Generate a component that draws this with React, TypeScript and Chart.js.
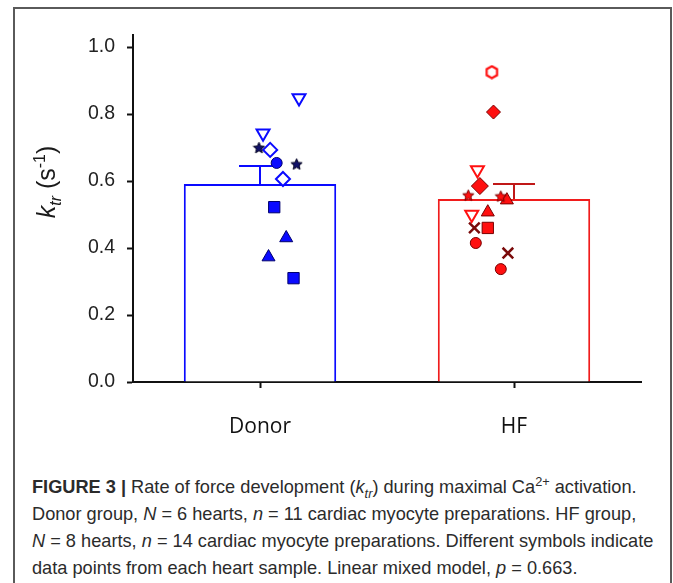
import React, { useEffect, useRef } from 'react';
import { Chart, registerables } from 'chart.js';
Chart.register(...registerables);

const categories = ['Donor', 'HF'];
const yTickValues = [0, 0.2, 0.4, 0.6, 0.8, 1.0];
const yTickLabels = ['0.0', '0.2', '0.4', '0.6', '0.8', '1.0'];
const barMeans = [0.591, 0.546];
const barSems = [0.054, 0.045];

// Donor hearts (values and horizontal jitter in category units)
const donorDownTriVals = [0.848, 0.743];
const donorDownTriJitter = [0.067, -0.11];
const donorStarVals = [0.70, 0.651];
const donorStarJitter = [-0.13, 0.055];
const donorDiamondVals = [0.693, 0.606];
const donorDiamondJitter = [-0.075, -0.012];
const donorCircleVals = [0.654];
const donorCircleJitter = [-0.043];
const donorSquareVals = [0.522, 0.31];
const donorSquareJitter = [-0.055, 0.04];
const donorTriVals = [0.43, 0.373];
const donorTriJitter = [0.004, -0.083];

// HF hearts
const hfHexVals = [0.925];
const hfHexJitter = [0.016];
const hfDiamondVals = [0.806, 0.585];
const hfDiamondJitter = [0.024, -0.043];
const hfDownTriVals = [0.633, 0.50];
const hfDownTriJitter = [-0.055, -0.083];
const hfStarVals = [0.558, 0.555];
const hfStarJitter = [-0.10, 0.06];
const hfTriVals = [0.543, 0.507];
const hfTriJitter = [0.09, -0.004];
const hfCrossVals = [0.46, 0.385];
const hfCrossJitter = [-0.07, 0.095];
const hfSquareVals = [0.46];
const hfSquareJitter = [-0.004];
const hfCircleVals = [0.415, 0.337];
const hfCircleJitter = [-0.063, 0.06];

const BLUE = '#0a0aff';
const BLUE_EDGE = '#00006e';
const RED = '#ff1010';
const RED_EDGE = '#7a0000';

function pts(cat: number, vals: number[], jit: number[]) {
  return vals.map((v, i) => ({ x: cat + jit[i], y: v }));
}

function makeStar(fill: string, stroke: string, size: number) {
  const c = document.createElement('canvas');
  c.width = size;
  c.height = size;
  const g = c.getContext('2d')!;
  const cx = size / 2;
  const cy = size / 2 + 0.6;
  const R = size / 2 - 0.6;
  const r = R * 0.45;
  g.beginPath();
  for (let i = 0; i < 10; i++) {
    const a = -Math.PI / 2 + (i * Math.PI) / 5;
    const rr = i % 2 ? r : R;
    const px = cx + Math.cos(a) * rr;
    const py = cy + Math.sin(a) * rr;
    if (i === 0) g.moveTo(px, py);
    else g.lineTo(px, py);
  }
  g.closePath();
  g.fillStyle = fill;
  g.fill();
  g.strokeStyle = stroke;
  g.lineWidth = 1;
  g.stroke();
  return c;
}

function makeHex(stroke: string, size: number) {
  const c = document.createElement('canvas');
  c.width = size;
  c.height = size;
  const g = c.getContext('2d')!;
  const cx = size / 2;
  const cy = size / 2;
  const R = size / 2 - 1.5;
  g.beginPath();
  for (let i = 0; i < 6; i++) {
    const a = -Math.PI / 2 + (i * Math.PI) / 3;
    const px = cx + Math.cos(a) * R;
    const py = cy + Math.sin(a) * R;
    if (i === 0) g.moveTo(px, py);
    else g.lineTo(px, py);
  }
  g.closePath();
  g.fillStyle = '#fff';
  g.fill();
  g.strokeStyle = stroke;
  g.lineWidth = 2.2;
  g.stroke();
  return c;
}

const errorColors = [BLUE, '#c01818'];

const errorBarPlugin = {
  id: 'errorBars',
  beforeDatasetsDraw(chart: any) {
    const { ctx } = chart;
    const x = chart.scales.x;
    const y = chart.scales.y;
    barMeans.forEach((m, i) => {
      const px = x.getPixelForValue(i);
      const yb = y.getPixelForValue(m);
      const yt = y.getPixelForValue(m + barSems[i]);
      ctx.save();
      ctx.strokeStyle = errorColors[i];
      ctx.lineWidth = 2;
      ctx.beginPath();
      ctx.moveTo(px, yb);
      ctx.lineTo(px, yt);
      ctx.moveTo(px - 21, yt);
      ctx.lineTo(px + 21, yt);
      ctx.stroke();
      ctx.restore();
    });
  },
};

const yTitlePlugin = {
  id: 'yTitle',
  afterDraw(chart: any) {
    const { ctx } = chart;
    const big = 25;
    const small = 16;
    const fam = '"Liberation Sans", Arial, sans-serif';
    const parts = [
      { t: 'k', f: `italic ${big}px ${fam}`, dy: 0 },
      { t: 'tr', f: `italic ${small}px ${fam}`, dy: 6 },
      { t: ' (s', f: `${big}px ${fam}`, dy: 0 },
      { t: '-1', f: `${small}px ${fam}`, dy: -10 },
      { t: ')', f: `${big}px ${fam}`, dy: 0 },
    ];
    let total = 0;
    parts.forEach((p) => {
      ctx.font = p.f;
      total += ctx.measureText(p.t).width;
    });
    ctx.save();
    ctx.translate(55, 182);
    ctx.rotate(-Math.PI / 2);
    ctx.fillStyle = '#1a1a1a';
    ctx.textBaseline = 'alphabetic';
    ctx.textAlign = 'left';
    let cx = -total / 2;
    parts.forEach((p) => {
      ctx.font = p.f;
      ctx.fillText(p.t, cx, p.dy);
      cx += ctx.measureText(p.t).width;
    });
    ctx.restore();
  },
};

export default function App() {
  const ref = useRef<HTMLCanvasElement>(null);

  useEffect(() => {
    const canvas = ref.current!;
    const starBlue = makeStar('#12126a', '#000020', 13);
    const starRed = makeStar(RED, RED_EDGE, 13);
    const hexRed = makeHex(RED, 15);

    const sc = (label: string, data: any[], style: any) => ({
      type: 'scatter' as const,
      label,
      data,
      xAxisID: 'xs',
      yAxisID: 'y',
      order: 0,
      ...style,
    });

    const datasets: any[] = [
      {
        type: 'bar',
        label: 'mean',
        data: barMeans,
        xAxisID: 'x',
        yAxisID: 'y',
        order: 10,
        grouped: false,
        backgroundColor: '#ffffff',
        borderColor: [BLUE, '#f01c1c'],
        borderWidth: 2,
        barPercentage: 0.6,
        categoryPercentage: 1.0,
      },
      sc('donor-downtri', pts(0, donorDownTriVals, donorDownTriJitter), {
        pointStyle: 'triangle', pointRotation: 180, pointRadius: 7.5,
        backgroundColor: '#fff', borderColor: BLUE, borderWidth: 2,
      }),
      sc('donor-star', pts(0, donorStarVals, donorStarJitter), {
        pointStyle: starBlue, pointRadius: 7,
      }),
      sc('donor-diamond', pts(0, donorDiamondVals, donorDiamondJitter), {
        pointStyle: 'rectRot', pointRadius: 7,
        backgroundColor: '#fff', borderColor: BLUE, borderWidth: 2,
      }),
      sc('donor-circle', pts(0, donorCircleVals, donorCircleJitter), {
        pointStyle: 'circle', pointRadius: 5.5,
        backgroundColor: BLUE, borderColor: BLUE_EDGE, borderWidth: 1,
      }),
      sc('donor-square', pts(0, donorSquareVals, donorSquareJitter), {
        pointStyle: 'rect', pointRadius: 8,
        backgroundColor: BLUE, borderColor: BLUE_EDGE, borderWidth: 1,
      }),
      sc('donor-tri', pts(0, donorTriVals, donorTriJitter), {
        pointStyle: 'triangle', pointRadius: 7.5,
        backgroundColor: BLUE, borderColor: BLUE_EDGE, borderWidth: 1,
      }),
      sc('hf-hex', pts(1, hfHexVals, hfHexJitter), {
        pointStyle: hexRed, pointRadius: 7,
      }),
      sc('hf-diamond', pts(1, hfDiamondVals, hfDiamondJitter), {
        pointStyle: 'rectRot', pointRadius: [7, 8.5],
        backgroundColor: RED, borderColor: RED_EDGE, borderWidth: 1,
      }),
      sc('hf-downtri', pts(1, hfDownTriVals, hfDownTriJitter), {
        pointStyle: 'triangle', pointRotation: 180, pointRadius: 7.5,
        backgroundColor: '#fff', borderColor: RED, borderWidth: 2,
      }),
      sc('hf-star', pts(1, hfStarVals, hfStarJitter), {
        pointStyle: starRed, pointRadius: 7,
      }),
      sc('hf-tri', pts(1, hfTriVals, hfTriJitter), {
        pointStyle: 'triangle', pointRadius: 7.5,
        backgroundColor: RED, borderColor: RED_EDGE, borderWidth: 1,
      }),
      sc('hf-cross', pts(1, hfCrossVals, hfCrossJitter), {
        pointStyle: 'crossRot', pointRadius: 7.5,
        backgroundColor: '#7a0a0a', borderColor: '#7a0a0a', borderWidth: 2.5,
      }),
      sc('hf-square', pts(1, hfSquareVals, hfSquareJitter), {
        pointStyle: 'rect', pointRadius: 8,
        backgroundColor: RED, borderColor: RED_EDGE, borderWidth: 1,
      }),
      sc('hf-circle', pts(1, hfCircleVals, hfCircleJitter), {
        pointStyle: 'circle', pointRadius: 5.5,
        backgroundColor: RED, borderColor: RED_EDGE, borderWidth: 1,
      }),
    ];

    const chart = new Chart(canvas, {
      type: 'bar',
      data: { labels: categories, datasets },
      options: {
        responsive: false,
        animation: false,
        devicePixelRatio: 1,
        layout: { padding: { top: 35, right: 32, left: 0, bottom: 0 } },
        plugins: { legend: { display: false }, tooltip: { enabled: false } },
        scales: {
          x: {
            type: 'category',
            offset: true,
            grid: {
              offset: false,
              drawOnChartArea: false,
              drawTicks: true,
              tickLength: 6,
              tickColor: '#111',
              tickWidth: 2,
            },
            border: { display: true, color: '#111', width: 2 },
            ticks: {
              font: { family: '"Open Sans", "Noto Sans", sans-serif', size: 21 },
              color: '#111',
              padding: 26,
            },
            afterFit: (s: any) => {
              s.height = 78;
            },
          },
          xs: { type: 'linear', min: -0.5, max: 1.5, display: false },
          y: {
            min: 0,
            max: 1.036,
            afterBuildTicks: (s: any) => {
              s.ticks = yTickValues.map((v) => ({ value: v }));
            },
            ticks: {
              callback: (_v: any, i: number) => yTickLabels[i],
              font: { family: '"Liberation Sans", Arial, sans-serif', size: 19.5 },
              color: '#222',
              padding: 12,
            },
            grid: {
              drawOnChartArea: false,
              drawTicks: true,
              tickLength: 6,
              tickColor: '#111',
              tickWidth: 2,
            },
            border: { display: true, color: '#111', width: 2 },
            afterFit: (s: any) => {
              s.width = 133;
            },
          },
        },
      } as any,
      plugins: [errorBarPlugin, yTitlePlugin],
    });
    return () => chart.destroy();
  }, []);

  const sub: React.CSSProperties = { fontSize: '70%', lineHeight: 0 };

  return (
    <div
      style={{
        position: 'fixed',
        left: 0,
        top: 0,
        width: 673,
        height: 583,
        overflow: 'hidden',
        background: '#fff',
      }}
    >
      <div
        style={{
          position: 'absolute',
          left: 13,
          top: 7,
          width: 659,
          height: 700,
          border: '2px solid #5a5a5a',
          boxSizing: 'border-box',
        }}
      />
      <canvas
        ref={ref}
        width={673}
        height={460}
        style={{ position: 'absolute', left: 0, top: 0, width: 673, height: 460 }}
      />
      <div
        style={{
          position: 'absolute',
          left: 32,
          top: 474,
          fontFamily: '"Liberation Sans", Arial, sans-serif',
          fontSize: 18.2,
          lineHeight: '27px',
          color: '#2b2b2b',
          whiteSpace: 'nowrap',
        }}
      >
        <b>FIGURE 3 |</b> Rate of force development (<i>k<sub style={sub}>tr</sub></i>) during maximal Ca
        <sup style={sub}>2+</sup> activation.
        <br />
        Donor group, <i>N</i> = 6 hearts, <i>n</i> = 11 cardiac myocyte preparations. HF group,
        <br />
        <i>N</i> = 8 hearts, <i>n</i> = 14 cardiac myocyte preparations. Different symbols indicate
        <br />
        data points from each heart sample. Linear mixed model, <i>p</i> = 0.663.
      </div>
    </div>
  );
}
